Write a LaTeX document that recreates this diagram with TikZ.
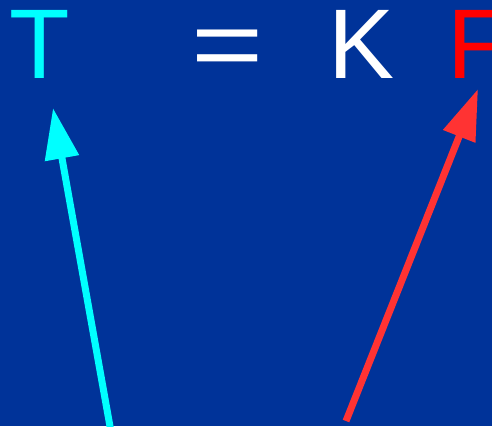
\documentclass[tikz,border=0pt]{standalone}
\usepackage{fontspec}
\setmainfont{Liberation Sans}
\usetikzlibrary{arrows.meta}
\definecolor{slideblue}{RGB}{0,51,153}
\definecolor{eqcyan}{RGB}{0,255,255}
\definecolor{eqred}{RGB}{255,0,0}
\definecolor{arrowred}{RGB}{255,51,51}
\begin{document}
\begin{tikzpicture}[x=1pt, y=-1pt,
  bigsym/.style={anchor=base, inner sep=0pt, font=\fontsize{99}{99}\selectfont},
  pointer/.style={line width=7pt, -{Triangle[length=51pt, width=33pt]}}]
%% 1 unit = 1 px of the 492 x 426 frame, y grows downward
%%   y=78   baseline of the equation
%%   y=426  bottom edge, where the pointers start

%% ---- Frame ----
\clip (0,0) rectangle (492,426);
\fill[slideblue] (0,0) rectangle (492,426);

%% ---- Equation: T = K F ----
\node[bigsym, text=eqcyan] (T)  at (40,78)    {T};
\node[bigsym, text=white, xscale=1.25] (eq) at (227.5,78) {=};
\node[bigsym, text=white]  (K)  at (362,78)   {K};
\node[bigsym, text=eqred, anchor=base west] (F) at (447,78) {F};

%% ---- Pointers ----
\coordinate (tfoot) at (111,432);
\coordinate (ttip)  at (53,108);
\draw[pointer, eqcyan] (tfoot) -- (ttip);

\coordinate (ffoot) at (346,421);
\coordinate (ftip)  at (478,89);
\draw[pointer, arrowred] (ffoot) -- (ftip);
\end{tikzpicture}
\end{document}
